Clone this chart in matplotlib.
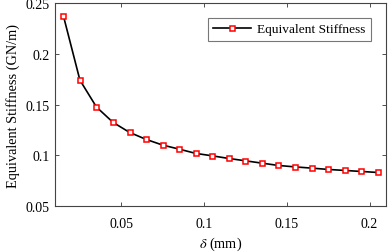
import numpy as np
import matplotlib.pyplot as plt

# displacement (mm) and equivalent stiffness (GN/m)
delta = [0.015, 0.025, 0.035, 0.045, 0.055, 0.065, 0.075, 0.085, 0.095, 0.105,
         0.115, 0.125, 0.135, 0.145, 0.155, 0.165, 0.175, 0.185, 0.195, 0.205]
stiffness = [0.2375, 0.174, 0.1475, 0.1324, 0.1225, 0.1156, 0.110, 0.106, 0.1018, 0.0994,
             0.0968, 0.0945, 0.0922, 0.0899, 0.0885, 0.0873, 0.086, 0.085, 0.084, 0.083]

xticks = [0.05, 0.1, 0.15, 0.2]
xticklabels = ["0.05", "0.1", "0.15", "0.2"]
yticks = [0.05, 0.1, 0.15, 0.2, 0.25]
yticklabels = ["0.05", "0.1", "0.15", "0.2", "0.25"]

plt.rcParams["font.family"] = ["Liberation Serif", "DejaVu Serif"]
plt.rcParams["mathtext.fontset"] = "stix"

fig = plt.figure(figsize=(3.88, 2.53), dpi=100)
ax = fig.add_axes([0.142, 0.182, 0.853, 0.802])

ax.plot(delta, stiffness, color="black", lw=1.2, marker="s", ms=3.6,
        mfc="white", mec="red", mew=1.1, label="Equivalent Stiffness")

ax.set_xlim(0.01, 0.21)
ax.set_ylim(0.05, 0.25)
ax.set_xticks(xticks)
ax.set_xticklabels(xticklabels)
ax.set_yticks(yticks)
ax.set_yticklabels(yticklabels)
ax.tick_params(direction="in", top=True, right=True, labelsize=10, length=3,
               width=0.6, color="#333333")
ax.tick_params(axis="x", pad=8)
ax.tick_params(axis="y", pad=4)
for s in ax.spines.values():
    s.set_linewidth(0.8)
    s.set_color("#444444")

ax.set_xlabel(r"$\delta$ (mm)", fontsize=10.3, labelpad=3)
ax.set_ylabel("Equivalent Stiffness (GN/m)", fontsize=10.3, labelpad=4)

leg = ax.legend(loc="upper right", fontsize=9.6, fancybox=False, edgecolor="#555555",
                borderpad=0.4, handlelength=2.8, handletextpad=0.5,
                bbox_to_anchor=(0.975, 0.96))
leg.get_frame().set_linewidth(0.8)

fig.savefig("out.png", dpi=100)
